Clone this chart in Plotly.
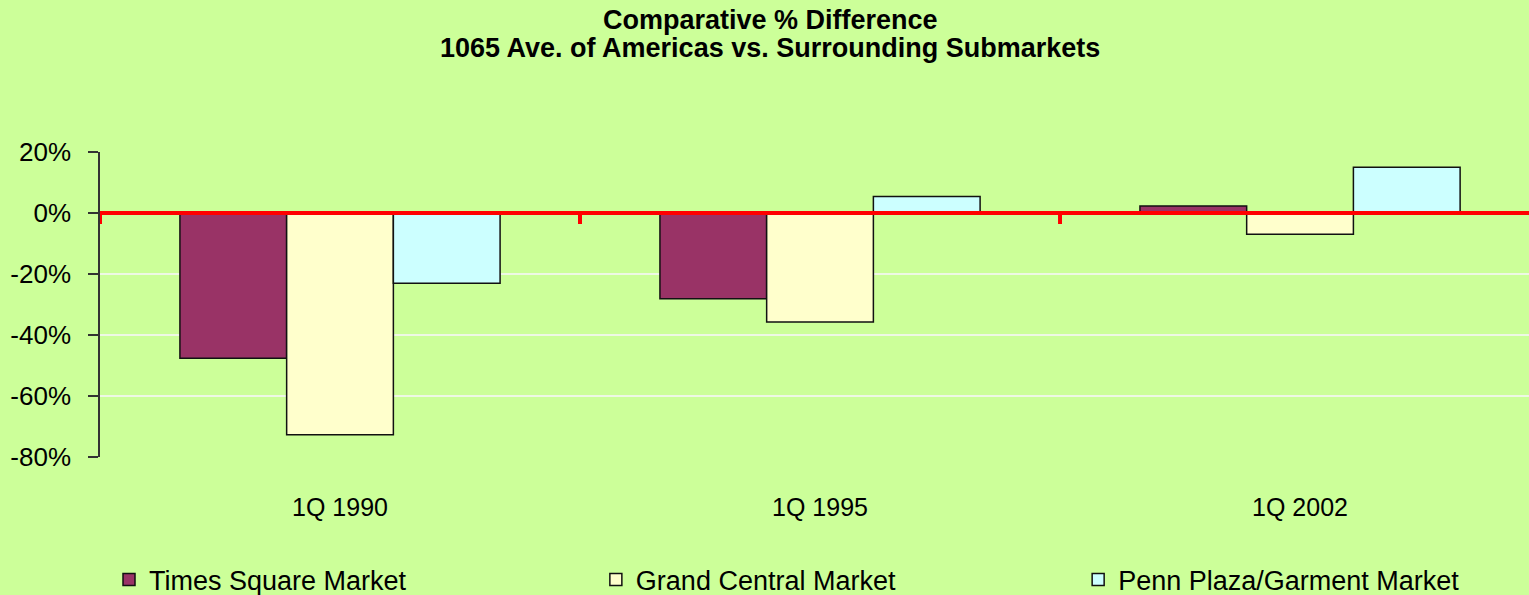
import plotly.graph_objects as go

categories = ["1Q 1990", "1Q 1995", "1Q 2002"]
times_square = [-47.6, -28.1, 2.3]
grand_central = [-72.7, -35.7, -7.0]
penn_plaza = [-23.0, 5.4, 15.0]
y_ticks = [20, 0, -20, -40, -60, -80]
title_lines = ["Comparative % Difference", "1065 Ave. of Americas vs. Surrounding Submarkets"]

series = [
    ("Times Square Market", times_square, "#993366", "legend", 0.0063),
    ("Grand Central Market", grand_central, "#FFFFCC", "legend2", 0.347),
    ("Penn Plaza/Garment Market", penn_plaza, "#CCFFFF", "legend3", 0.6845),
]

fig = go.Figure()
for name, vals, color, leg, _ in series:
    fig.add_trace(go.Bar(
        x=categories, y=vals, name=name, legend=leg,
        marker=dict(color=color, line=dict(color="#111111", width=1.5)),
    ))

# red category axis line at zero with small tick marks between categories
shapes = [dict(type="line", xref="paper", yref="y", x0=0, x1=1, y0=0, y1=0,
               line=dict(color="#FF0000", width=4), layer="above")]
for i in range(len(categories)):
    shapes.append(dict(type="line", xref="x", yref="y", ysizemode="pixel", yanchor=0,
                       x0=i - 0.5, x1=i - 0.5, y0=0, y1=-11,
                       line=dict(color="#FF0000", width=4), layer="above"))

title_font = dict(family="Liberation Sans Narrow, Arial Narrow, Liberation Sans, sans-serif",
                  size=27, color="#000000")
annotations = [
    dict(text=f"<b>{t}</b>", xref="paper", yref="paper", x=0.469, y=1,
         xanchor="center", yanchor="middle", yshift=shift, showarrow=False, font=title_font)
    for t, shift in zip(title_lines, [132, 104])
]

leg_common = dict(orientation="h", xanchor="left", y=-0.403, yanchor="middle",
                  font=dict(size=27), bgcolor="rgba(0,0,0,0)")
legends = {}
for name, vals, color, leg, lx in series:
    legends[leg] = dict(leg_common, x=lx)

fig.update_layout(
    width=1529, height=595,
    paper_bgcolor="#CCFF99", plot_bgcolor="#CCFF99",
    margin=dict(l=100, r=0, t=152, b=138, autoexpand=False),
    barmode="group", bargap=0.333, bargroupgap=0,
    font=dict(family="Liberation Sans, Arial, sans-serif", size=25, color="#000000"),
    annotations=annotations,
    shapes=shapes,
    showlegend=True,
    **legends,
)
fig.update_xaxes(
    range=[-0.5, 2.477], showgrid=False, showline=False, ticks="",
    ticklabelstandoff=33, tickfont=dict(size=25),
)
fig.update_yaxes(
    range=[-80, 20], tickvals=y_ticks, ticktext=[f"{v}%" for v in y_ticks],
    showgrid=True, gridcolor="#EEF8E4", gridwidth=1.5, zeroline=False,
    showline=True, linecolor="#333333", linewidth=1.5,
    ticks="outside", ticklen=10, tickcolor="#333333", tickwidth=1.5,
    ticklabelstandoff=12, tickfont=dict(size=26),
)

fig.write_html("out.html", config={"displayModeBar": False},
               post_script="document.body.style.margin='0px';")
